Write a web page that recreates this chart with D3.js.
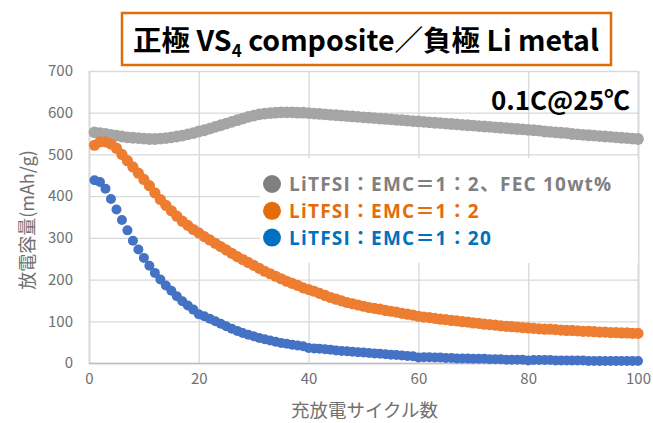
<!DOCTYPE html>
<html lang="ja">
<head>
<meta charset="utf-8">
<title>VS4 cycle</title>
<script src="https://d3js.org/d3.v7.min.js"></script>
<style>
  body { margin: 0; background: #fff; }
  text { font-family: "Noto Sans CJK JP", "Noto Sans", sans-serif; }
  .leg { font-family: "Open Sans", "Noto Sans CJK JP", sans-serif; letter-spacing: 1.2px; }
</style>
</head>
<body>
<script>
var w = 653, h = 423;

// cycle numbers 1..100
var cycles = d3.range(1, 101);

// LiTFSI:EMC=1:2, FEC 10wt%
var grayVals = [
  553, 551, 549, 547, 545, 543, 541, 540, 539, 538,
  537, 537, 538, 539, 541, 543, 545, 548, 551, 555,
  558, 562, 566, 570, 574, 578, 582, 586, 590, 593,
  596, 598, 599, 600, 601, 601, 601, 600, 600, 599,
  598, 597, 596, 595, 594, 593, 592, 591, 590, 589,
  588, 587, 586, 585, 584, 583, 582, 581, 580, 579,
  578, 577, 576, 575, 574, 573, 572, 571, 570, 569,
  568, 567, 566, 565, 564, 563, 562, 561, 560, 559,
  558, 557, 555, 554, 553, 552, 551, 549, 548, 547,
  546, 545, 544, 543, 542, 541, 540, 539, 538, 537
];
// LiTFSI:EMC=1:2
var orangeVals = [
  522, 530, 530, 525, 515, 500, 485, 470, 455, 440,
  425, 408, 392, 378, 365, 352, 340, 330, 320, 312,
  303, 295, 287, 279, 271, 263, 255, 248, 241, 234,
  227, 220, 214, 208, 202, 196, 191, 186, 180, 176,
  172, 167, 162, 157, 153, 149, 145, 142, 139, 136,
  133, 131, 129, 126, 124, 122, 119, 117, 115, 112,
  110, 109, 107, 105, 104, 102, 101, 99, 98, 96,
  95, 93, 92, 91, 89, 88, 87, 86, 85, 84,
  83, 82, 81, 81, 80, 79, 78, 78, 77, 76,
  76, 75, 74, 74, 73, 73, 72, 72, 71, 71
];
// LiTFSI:EMC=1:20
var blueVals = [
  438, 434, 418, 393, 368, 343, 318, 293, 272, 252,
  233, 216, 200, 186, 173, 160, 148, 138, 128, 117,
  112, 106, 100, 94, 88, 82, 77, 72, 68, 64,
  60, 57, 54, 51, 48, 46, 44, 42, 40, 36,
  35, 34, 33, 32, 30, 29, 28, 27, 26, 25,
  24, 23, 22, 21, 20, 19, 18, 17, 16, 13,
  14, 14, 13, 13, 12, 12, 11, 11, 11, 10,
  10, 10, 9, 9, 9, 8, 8, 8, 8, 6,
  7, 7, 7, 7, 6, 6, 6, 6, 6, 6,
  5, 5, 5, 5, 5, 5, 5, 5, 5, 5
];

var xTicks = [0, 20, 40, 60, 80, 100];
var yTicks = [0, 100, 200, 300, 400, 500, 600, 700];
var legendLabels = ["LiTFSI：EMC＝1：2、FEC 10wt%", "LiTFSI：EMC＝1：2", "LiTFSI：EMC＝1：20"];
var seriesColors = ["#A5A5A5", "#ED7D31", "#4472C4"];
var legendDotColors = ["#808080", "#E46C0A", "#0070C0"];
var legendTextColors = ["#808080", "#E46C0A", "#0070C0"];

var margin = {top: 71, right: 15, bottom: 60, left: 89};
var innerW = w - margin.left - margin.right;
var innerH = h - margin.top - margin.bottom;

var svg = d3.select("body").append("svg")
  .attr("width", w).attr("height", h);

svg.append("rect").attr("width", w).attr("height", h).attr("fill", "#fff");

var xScale = d3.scaleLinear().domain([0, 100]).range([0, innerW]);
var yScale = d3.scaleLinear().domain([0, 700]).range([innerH, 0]);

var g = svg.append("g").attr("transform", "translate(" + margin.left + "," + margin.top + ")");

// grid
g.append("g")
  .call(d3.axisLeft(yScale).tickValues(yTicks).tickSize(-innerW).tickFormat(""))
  .call(function (s) {
    s.select(".domain").remove();
    s.selectAll("line").attr("stroke", "#d9d9d9").attr("stroke-width", 1.3);
  });
g.append("g")
  .attr("transform", "translate(0," + innerH + ")")
  .call(d3.axisBottom(xScale).tickValues(xTicks).tickSize(-innerH).tickFormat(""))
  .call(function (s) {
    s.select(".domain").attr("stroke", "#bfbfbf").attr("stroke-width", 1.5);
    s.selectAll("line").attr("stroke", "#d9d9d9").attr("stroke-width", 1.3);
  });

// tick labels
g.append("g")
  .call(d3.axisLeft(yScale).tickValues(yTicks).tickSize(0).tickPadding(16))
  .call(function (s) {
    s.select(".domain").remove();
    s.selectAll("text").attr("fill", "#707070").attr("font-size", 15);
  });
g.append("g")
  .attr("transform", "translate(0," + innerH + ")")
  .call(d3.axisBottom(xScale).tickValues(xTicks).tickSize(0).tickPadding(10))
  .call(function (s) {
    s.select(".domain").remove();
    s.selectAll("text").attr("fill", "#707070").attr("font-size", 15);
  });

// series as dense markers
var allVals = [grayVals, orangeVals, blueVals];
var radii = [5.9, 5.6, 5];
allVals.forEach(function (vals, i) {
  g.append("g").selectAll("circle")
    .data(cycles)
    .enter().append("circle")
    .attr("cx", function (d) { return xScale(d); })
    .attr("cy", function (d, j) { return yScale(vals[j]); })
    .attr("r", radii[i])
    .attr("fill", seriesColors[i]);
});

// axis titles
svg.append("text")
  .attr("x", margin.left + innerW / 2 + 1).attr("y", 417)
  .attr("text-anchor", "middle")
  .attr("font-size", 18.5).attr("fill", "#707070")
  .text("充放電サイクル数");
svg.append("text")
  .attr("transform", "translate(34,220) rotate(-90)")
  .attr("text-anchor", "middle")
  .attr("font-size", 18).attr("fill", "#707070")
  .text("放電容量(mAh/g)");

// legend
var lg = svg.append("g");
lg.append("rect").attr("x", 260).attr("y", 158).attr("width", 378).attr("height", 105).attr("fill", "#fff");
legendLabels.forEach(function (lab, i) {
  var cy = 184 + i * 26.8;
  lg.append("circle").attr("cx", 272).attr("cy", cy).attr("r", 9).attr("fill", legendDotColors[i]);
  lg.append("text").attr("class", "leg").attr("x", 289).attr("y", cy + 7)
    .attr("font-size", 19).attr("font-weight", "bold")
    .attr("fill", legendTextColors[i])
    .text(lab);
});

// condition note
svg.append("text")
  .attr("x", 630).attr("y", 110)
  .attr("text-anchor", "end")
  .attr("font-size", 26).attr("font-weight", "bold").attr("fill", "#000")
  .text("0.1C@25℃");

// title box
svg.append("rect")
  .attr("x", 122).attr("y", 13).attr("width", 489).attr("height", 52)
  .attr("fill", "#fff").attr("stroke", "#E26B0A").attr("stroke-width", 2.5);
var title = svg.append("text")
  .attr("x", 366).attr("y", 51)
  .attr("text-anchor", "middle")
  .attr("font-size", 28.5).attr("font-weight", "bold").attr("fill", "#000");
title.append("tspan").text("正極 VS");
title.append("tspan").attr("font-size", 17).attr("dy", 6).text("4");
title.append("tspan").attr("dy", -6).text(" composite／負極 Li metal");
</script>
</body>
</html>
